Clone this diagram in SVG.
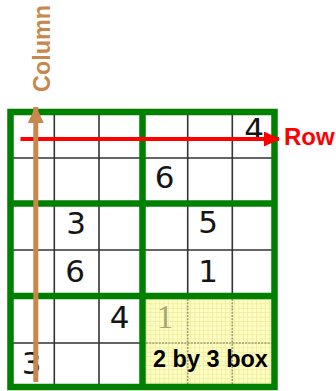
<svg xmlns="http://www.w3.org/2000/svg" width="336" height="391" viewBox="0 0 336 391">
  <style>
    .thin { stroke: #333333; stroke-width: 1.6; fill: none; }
    .thick { stroke: #008000; stroke-width: 6.5; fill: none; }
    .dot { stroke: #9c9a6c; stroke-width: 1.6; stroke-dasharray: 2 1.2; fill: none; }
    .dig { font-family: "DejaVu Sans", "Liberation Sans", sans-serif; font-size: 31px; fill: #151515; text-anchor: middle; }
    .lbl { font-family: "Liberation Sans", Arial, sans-serif; font-weight: bold; }
  </style>
  <defs>
    <pattern id="ygrid" x="146" y="299" width="4.4" height="4.4" patternUnits="userSpaceOnUse">
      <rect width="4.4" height="4.4" fill="#ffffc4"/>
      <path d="M0 0.5H4.4M0.5 0V4.4" stroke="#eeeea0" stroke-width="0.9"/>
    </pattern>
    <marker id="headRed" markerWidth="16" markerHeight="15" refX="15" refY="7.5" orient="auto" markerUnits="userSpaceOnUse">
      <path d="M0 0L16 7.5L0 15Z" fill="#ff0000"/>
    </marker>
    <marker id="headTan" markerWidth="16" markerHeight="17" refX="16" refY="8" orient="auto" markerUnits="userSpaceOnUse">
      <path d="M0 0L17 8L0 16Z" fill="#c8874c"/>
    </marker>
  </defs>

  <rect width="336" height="391" fill="#ffffff"/>

  <g id="grid">
    <rect id="yellow-box" x="142.5" y="296" width="132" height="91" fill="url(#ygrid)"/>
    <g id="thin-lines">
      <path class="thin" d="M54.3 112V296M99 112V296M54.3 296V387M99 296V387"/>
      <path class="thin" d="M187.7 112V296M232.3 112V296"/>
      <path class="thin" d="M10.5 158H274.5M10.5 250H274.5M10.5 343H142.5"/>
    </g>
    <path class="dot" d="M187.7 299V384M232.3 299V384M146 343H271.5"/>
    <g id="thick-lines">
      <rect class="thick" x="10.5" y="112" width="264" height="275"/>
      <path class="thick" d="M142.5 112V387M10.5 203.5H274.5M10.5 296H274.5"/>
    </g>
  </g>

  <g id="digits">
    <text class="dig" x="254" y="140">4</text>
    <text class="dig" x="164.7" y="188">6</text>
    <text class="dig" x="76" y="233.5">3</text>
    <text class="dig" x="208" y="233">5</text>
    <text class="dig" x="75" y="282">6</text>
    <text class="dig" x="208" y="282">1</text>
    <text class="dig" x="119.5" y="328">4</text>
    <text class="dig" x="31.7" y="374">3</text>
    <text x="165" y="327.5" font-family="Liberation Serif, serif" font-size="33" fill="#9a9868" fill-opacity="0.85" text-anchor="middle">1</text>
  </g>

  <g id="connectors">
    <line id="row-arrow" x1="20.5" y1="139" x2="279" y2="139" stroke="#ff0000" stroke-width="4" marker-end="url(#headRed)"/>
    <line id="column-arrow" x1="35.8" y1="382" x2="35.8" y2="107" stroke="#c8874c" stroke-width="5" marker-end="url(#headTan)"/>
  </g>

  <g id="labels">
    <text id="row-label" class="lbl" x="284" y="144.5" font-size="24" fill="#ff0000">Row</text>
    <text id="column-label" class="lbl" transform="translate(50,92) rotate(-90)" x="0" y="0" font-size="24" fill="#c8874c" textLength="87" lengthAdjust="spacingAndGlyphs">Column</text>
    <text id="box-label" class="lbl" x="153" y="366.5" font-size="23.5" fill="#000000">2 by 3 box</text>
  </g>
</svg>
